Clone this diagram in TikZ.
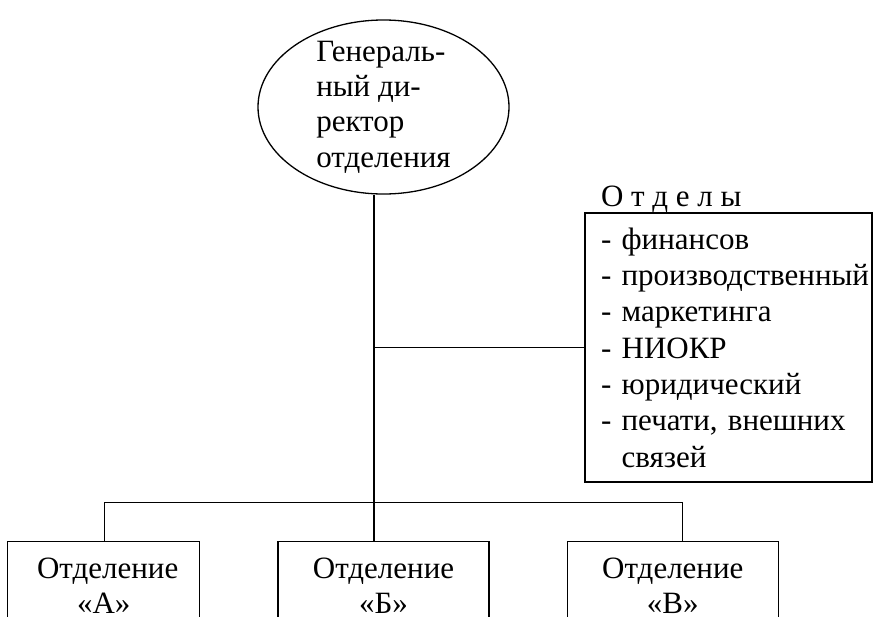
\documentclass[tikz,border=0pt]{standalone}
\usepackage{fontspec}
\setmainfont{Liberation Serif}
\usetikzlibrary{positioning,shapes.geometric}

\begin{document}
\begin{tikzpicture}[x=1pt, y=1pt, line width=1.3pt, node distance=77pt,
    chief/.style={draw, ellipse, minimum width=251pt, minimum height=174pt, inner xsep=0pt, inner ysep=-8pt, align=left, font=\fontsize{31}{35.4}\selectfont},
    unit/.style={draw, minimum height=88pt, inner sep=0pt, align=center, font=\fontsize{31}{35}\selectfont},
    dept/.style={draw, text width=255pt, inner xsep=16pt, inner ysep=0pt, minimum height=269pt, align=left, font=\fontsize{31}{36.3}\selectfont}]
  \clip (0,0) rectangle (875,-616);
  \node[chief] (gd) at (383.5,-107) {Генераль-\\ный ди-\\ректор\\отделения};
  \node[unit, minimum width=211pt, below=346pt of gd] (ub) {Отделение\\«Б»};
  \node[unit, minimum width=192pt, left=of ub] (ua) {\hspace*{8pt}Отделение\\«А»};
  \node[unit, minimum width=211pt, right=of ub] (uc) {Отделение\\«В»};
  \node[dept] (otd) at (728.5,-347.5) {\mbox{- финансов}\\\mbox{- производственный}\\\mbox{- маркетинга}\\\mbox{- НИОКР}\\\mbox{- юридический}\\\mbox{- печати, внешних}\\\phantom{- }связей};
  \node[anchor=base west, inner sep=0pt, font=\fontsize{31}{36}\selectfont] (ttl) at ([xshift=16pt,yshift=6pt]otd.north west) {О т д е л ы};
  % trunk and branches
  \coordinate (t) at ([xshift=-9.5pt]gd.south);
  \draw (t) -- (t |- ub.north);
  \draw (otd.west) -- (otd.west -| t);
  \draw ([xshift=1pt]ua.north) -- ++(0,38) -| ([xshift=9.5pt]uc.north);
\end{tikzpicture}
\end{document}
